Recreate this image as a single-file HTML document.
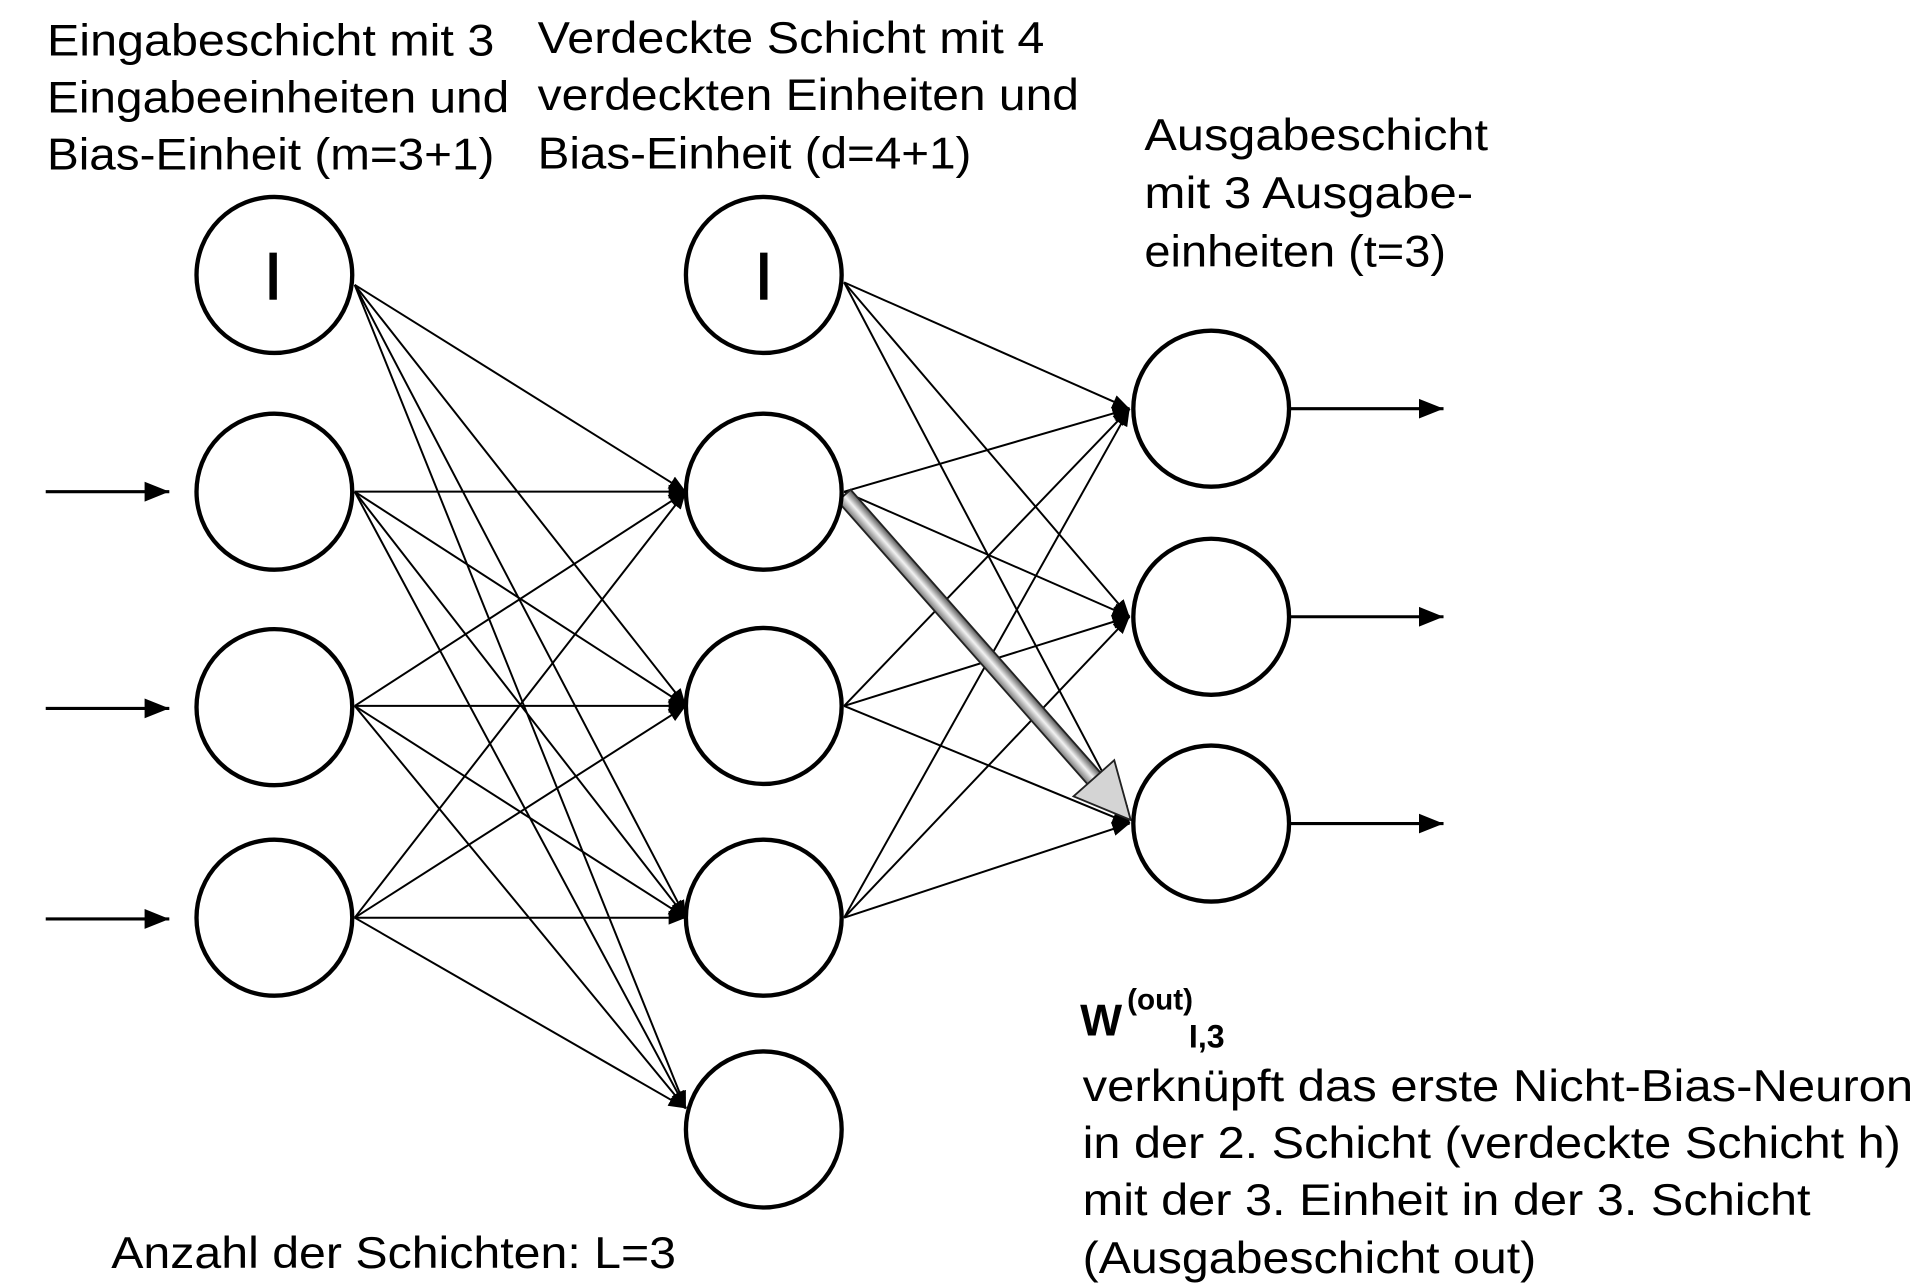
<!DOCTYPE html>
<html><head><meta charset="utf-8"><style>html,body{margin:0;padding:0;background:#fff}svg{display:block}</style></head><body>
<svg width="1928" height="1288" viewBox="0 0 1560 1040" preserveAspectRatio="none" xmlns="http://www.w3.org/2000/svg" font-family="Liberation Sans, sans-serif">
<defs>
<marker id="b" viewBox="0 0 10 10" refX="10" refY="5" markerWidth="20" markerHeight="20" orient="auto" markerUnits="userSpaceOnUse"><path d="M0,1 L10,5 L0,9 z"/></marker>
<marker id="c" viewBox="0 0 10 10" refX="10" refY="5" markerWidth="14" markerHeight="14" orient="auto" markerUnits="userSpaceOnUse"><path d="M0,1 L10,5 L0,9 z"/></marker>
<linearGradient id="g" x1="0" y1="0" x2="0" y2="1"><stop offset="0" stop-color="#555"/><stop offset="0.5" stop-color="#f2f2f2"/><stop offset="1" stop-color="#777"/></linearGradient>
</defs>
<g font-size="36" fill="#000" lengthAdjust="spacingAndGlyphs">
<text x="38" y="45" textLength="362" lengthAdjust="spacingAndGlyphs">Eingabeschicht mit 3</text>
<text x="38" y="91" textLength="374" lengthAdjust="spacingAndGlyphs">Eingabeeinheiten und</text>
<text x="38" y="137" textLength="362" lengthAdjust="spacingAndGlyphs">Bias-Einheit (m=3+1)</text>
<text x="435" y="43" textLength="410" lengthAdjust="spacingAndGlyphs">Verdeckte Schicht mit 4</text>
<text x="435" y="89" textLength="438" lengthAdjust="spacingAndGlyphs">verdeckten Einheiten und</text>
<text x="435" y="136" textLength="351" lengthAdjust="spacingAndGlyphs">Bias-Einheit (d=4+1)</text>
<text x="926" y="121" textLength="278" lengthAdjust="spacingAndGlyphs">Ausgabeschicht</text>
<text x="926" y="168" textLength="266" lengthAdjust="spacingAndGlyphs">mit 3 Ausgabe-</text>
<text x="926" y="215" textLength="244" lengthAdjust="spacingAndGlyphs">einheiten (t=3)</text>
<text x="90" y="1024" textLength="457" lengthAdjust="spacingAndGlyphs">Anzahl der Schichten: L=3</text>
<text x="876" y="889" textLength="672" lengthAdjust="spacingAndGlyphs">verknüpft das erste Nicht-Bias-Neuron</text>
<text x="876" y="935" textLength="662" lengthAdjust="spacingAndGlyphs">in der 2. Schicht (verdeckte Schicht h)</text>
<text x="876" y="981" textLength="589" lengthAdjust="spacingAndGlyphs">mit der 3. Einheit in der 3. Schicht</text>
<text x="876" y="1028" textLength="367" lengthAdjust="spacingAndGlyphs">(Ausgabeschicht out)</text>
</g>
<text x="874" y="836" font-size="36" font-weight="bold">W</text>
<text x="912" y="815" font-size="24" font-weight="bold">(out)</text>
<text x="962" y="846" font-size="26" font-weight="bold">I,3</text>
<g stroke="#000" stroke-width="1.6" fill="none">
<g marker-end="url(#c)">
<line x1="287" y1="230" x2="555" y2="397"/><line x1="287" y1="230" x2="555" y2="570"/><line x1="287" y1="230" x2="555" y2="741"/><line x1="287" y1="230" x2="555" y2="895"/>
<line x1="287" y1="397" x2="555" y2="397"/><line x1="287" y1="397" x2="555" y2="570"/><line x1="287" y1="397" x2="555" y2="741"/><line x1="287" y1="397" x2="555" y2="895"/>
<line x1="287" y1="570" x2="555" y2="397"/><line x1="287" y1="570" x2="555" y2="570"/><line x1="287" y1="570" x2="555" y2="741"/><line x1="287" y1="570" x2="555" y2="895"/>
<line x1="287" y1="741" x2="555" y2="397"/><line x1="287" y1="741" x2="555" y2="570"/><line x1="287" y1="741" x2="555" y2="741"/><line x1="287" y1="741" x2="555" y2="895"/>
</g>
<g marker-end="url(#c)">
<line x1="683" y1="228" x2="914" y2="330"/><line x1="683" y1="228" x2="914" y2="498"/><line x1="683" y1="228" x2="914" y2="665"/>
<line x1="683" y1="397" x2="914" y2="330"/><line x1="683" y1="397" x2="914" y2="498"/>
<line x1="683" y1="570" x2="914" y2="330"/><line x1="683" y1="570" x2="914" y2="498"/><line x1="683" y1="570" x2="914" y2="665"/>
<line x1="683" y1="741" x2="914" y2="330"/><line x1="683" y1="741" x2="914" y2="498"/><line x1="683" y1="741" x2="914" y2="665"/>
</g>
<g stroke-width="2.5" marker-end="url(#b)">
<line x1="37" y1="397" x2="137" y2="397"/><line x1="37" y1="572" x2="137" y2="572"/><line x1="37" y1="742" x2="137" y2="742"/>
<line x1="1043" y1="330" x2="1168" y2="330"/><line x1="1043" y1="498" x2="1168" y2="498"/><line x1="1043" y1="665" x2="1168" y2="665"/>
</g>
</g>
<g transform="translate(683,400) rotate(48.5)">
<rect x="0" y="-7" width="312" height="14" fill="url(#g)" stroke="#222" stroke-width="1.5"/>
<path d="M305,-22 L350,0 L305,22 z" fill="#d4d4d4" stroke="#222" stroke-width="1.5"/>
</g>
<g stroke="#000" stroke-width="3.5" fill="#fff">
<circle cx="222" cy="222" r="63"/><circle cx="222" cy="397" r="63"/><circle cx="222" cy="571" r="63"/><circle cx="222" cy="741" r="63"/>
<circle cx="618" cy="222" r="63"/><circle cx="618" cy="397" r="63"/><circle cx="618" cy="570" r="63"/><circle cx="618" cy="741" r="63"/><circle cx="618" cy="912" r="63"/>
<circle cx="980" cy="330" r="63"/><circle cx="980" cy="498" r="63"/><circle cx="980" cy="665" r="63"/>
</g>
<rect x="218" y="204" width="6" height="38" fill="#000"/>
<rect x="615" y="204" width="6" height="38" fill="#000"/>
</svg>
</body></html>
